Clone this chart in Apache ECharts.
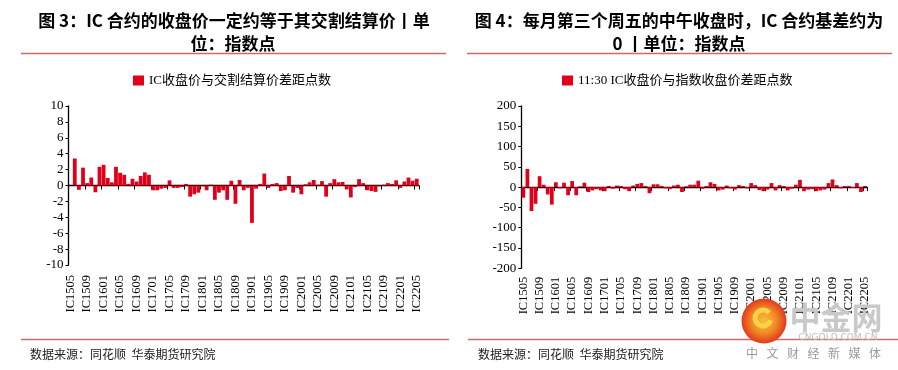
<!DOCTYPE html>
<html><head><meta charset="utf-8">
<script src="https://cdn.jsdelivr.net/npm/echarts/dist/echarts.min.js"></script>
<style>html,body{margin:0;padding:0;background:#fff}#c{width:898px;height:370px}</style>
</head><body><div id="c"></div>
<script>
const categories = [
'IC1505','IC1506','IC1507','IC1508','IC1509','IC1510','IC1511','IC1512',
'IC1601','IC1602','IC1603','IC1604','IC1605','IC1606','IC1607','IC1608','IC1609','IC1610','IC1611','IC1612',
'IC1701','IC1702','IC1703','IC1704','IC1705','IC1706','IC1707','IC1708','IC1709','IC1710','IC1711','IC1712',
'IC1801','IC1802','IC1803','IC1804','IC1805','IC1806','IC1807','IC1808','IC1809','IC1810','IC1811','IC1812',
'IC1901','IC1902','IC1903','IC1904','IC1905','IC1906','IC1907','IC1908','IC1909','IC1910','IC1911','IC1912',
'IC2001','IC2002','IC2003','IC2004','IC2005','IC2006','IC2007','IC2008','IC2009','IC2010','IC2011','IC2012',
'IC2101','IC2102','IC2103','IC2104','IC2105','IC2106','IC2107','IC2108','IC2109','IC2110','IC2111','IC2112',
'IC2201','IC2202','IC2203','IC2204','IC2205'];

// 图3: IC收盘价与交割结算价差距点数
const closeVsSettle = [
0, 3.4, -0.55, 2.25, 0.3, 1.0, -0.85, 2.35, 2.6, 0.95,
0.4, 2.35, 1.6, 1.35, 0.2, 0.85, 0.5, 1.2, 1.65, 1.35,
-0.6, -0.6, -0.4, -0.3, 0.65, -0.3, -0.3, -0.2, 0.2, -1.4,
-1.1, -0.9, -0.1, -0.6, 0.1, -1.8, -0.9, -0.6, -1.8, 0.6,
-2.3, 0.7, -0.6, -0.3, -4.7, -0.4, 0.2, 1.5, -0.3, 0.2,
0.3, -0.7, -0.6, 1.2, -0.9, -0.3, -1.1, 0.15, 0.4, 0.7,
0.1, 0.55, -1.4, 0.3, 0.8, 0.4, 0.45, -0.5, -1.5, -0.2,
0.8, 0.3, -0.6, -0.7, -0.8, -0.1, 0.1, 0.3, 0.2, 0.65,
-0.3, 0.5, 1.0, 0.6, 0.85];

// 图4: 11:30 IC收盘价与指数收盘价差距点数
const noonBasis = [
-26, 45, -59, -41, 27, 6, -18, -43, 12, -3,
11, -20, 15, -20, 2, 11, -12, -8, -5, -8,
-10, 3, -4, 4, 3, -5, -10, 4, 8, 10,
3, -15, 7, 7, 3, -3, -5, 4, 6, -12,
2, 6, 6, 16, -4, 3, 12, 8, -8, -6,
4, -3, -6, 5, 3, -3, 10, 5, -7, -10,
-6, 10, -8, 5, 3, -8, -4, 6, 18, -10,
-6, -5, -10, -8, -6, 10, 19, 5, -3, 3,
3, -2, 10, -12, 3];

const seriesNames = ['IC收盘价与交割结算价差距点数', '11:30 IC收盘价与指数收盘价差距点数'];
const titleLines3 = ['图 3：IC 合约的收盘价一定约等于其交割结算价丨单', '位：指数点'];
const titleLines4 = ['图 4：每月第三个周五的中午收盘时，IC 合约基差约为', '0 丨单位：指数点'];
const sourceText = '数据来源：同花顺  华泰期货研究院';
const yTicksLeft = {min: -10, max: 10, interval: 2};
const yTicksRight = {min: -200, max: 200, interval: 50};

const RED = '#e0001b';
const LINE = '#cf6a6c';
const serif = '"Liberation Serif","Times New Roman","Noto Sans CJK SC",serif';
const cjk = '"Noto Sans CJK SC","Noto Sans",sans-serif';

function xAxis(grid, margin) {
  return {
    type: 'category', gridIndex: grid, data: categories,
    axisLine: {onZero: true, lineStyle: {color: '#000', width: 1.3}},
    axisTick: {show: true, interval: 3, length: 4, lineStyle: {color: '#000'}},
    axisLabel: {interval: 3, rotate: 90, margin: margin, fontSize: 12.5, color: '#000', fontFamily: serif},
    splitLine: {show: false}
  };
}
function yAxis(grid, t) {
  return {
    type: 'value', gridIndex: grid, min: t.min, max: t.max, interval: t.interval,
    axisLine: {show: true, lineStyle: {color: '#000', width: 1.3}},
    axisTick: {show: true, length: 3, lineStyle: {color: '#000'}},
    axisLabel: {fontSize: 13, color: '#000', fontFamily: serif, margin: 5},
    splitLine: {show: false}
  };
}

const graphics = [];
function text(str, x, y, font, fill, align) {
  graphics.push({type: 'text', x: x, y: y, z: 100,
    style: {text: str, font: font, fill: fill, textAlign: align || 'center', textVerticalAlign: 'middle'}});
}
function hline(x1, x2, y) {
  graphics.push({type: 'line', z: 100, shape: {x1: x1, y1: y, x2: x2, y2: y}, style: {stroke: LINE, lineWidth: 1.5}});
}
const titleFont = 'bold 17px ' + cjk;
text(titleLines3[0], 234, 21, titleFont, '#000');
text(titleLines3[1], 233, 44, titleFont, '#000');
text(titleLines4[0], 679, 21, titleFont, '#000');
text(titleLines4[1], 679, 44, titleFont, '#000');
hline(21, 446, 53.5);
hline(467, 892, 53.5);
hline(21, 449, 339.5);
hline(468, 898, 339.5);
text(sourceText, 30, 354, '12px ' + cjk, '#222', 'left');
text(sourceText, 478, 354, '12px ' + cjk, '#222', 'left');

// watermark logo
graphics.push({type: 'circle', z: 110, shape: {cx: 764, cy: 321, r: 22.5},
  style: {fill: {type: 'radial', x: 0.5, y: 0.5, r: 0.5,
    colorStops: [{offset: 0, color: '#f8c03a'}, {offset: 0.55, color: '#f08a24'}, {offset: 1, color: '#e2381f'}]}}});
graphics.push({type: 'arc', z: 111, shape: {cx: 763, cy: 318, r: 8, startAngle: 0.3, endAngle: 5.6},
  style: {stroke: '#ffd24a', lineWidth: 5, fill: null}});
text('中金网', 836, 317, 'bold 31px ' + cjk, '#c9c9c9');
text('CNGOLD.COM.CN', 838, 338, '9px ' + '"DejaVu Sans",sans-serif', '#bdbdbd');
const wm = ['中','文','财','经','新','媒','体'];
wm.forEach((c, i) => text(c, 752 + i * 20.5, 353, '12px ' + cjk, '#9a9a9a'));

const chart = echarts.init(document.getElementById('c'), null, {renderer: 'canvas'});
chart.setOption({
  animation: false,
  backgroundColor: '#fff',
  grid: [
    {left: 68.6, top: 106, width: 350.2, height: 159, containLabel: false, outerBoundsMode: 'none'},
    {left: 521.3, top: 106, width: 345.8, height: 162.3, containLabel: false, outerBoundsMode: 'none'}
  ],
  legend: [
    {data: [seriesNames[0]], left: 133, top: 74, padding: 0, itemWidth: 11, itemHeight: 10, icon: 'rect',
     textStyle: {fontSize: 13, color: '#000', fontFamily: serif}},
    {data: [seriesNames[1]], left: 562, top: 74, padding: 0, itemWidth: 11, itemHeight: 10, icon: 'rect',
     textStyle: {fontSize: 13, color: '#000', fontFamily: serif}}
  ],
  xAxis: [xAxis(0, 10), xAxis(1, 8.5)],
  yAxis: [yAxis(0, yTicksLeft), yAxis(1, yTicksRight)],
  series: [
    {name: seriesNames[0], type: 'bar', xAxisIndex: 0, yAxisIndex: 0, data: closeVsSettle,
     itemStyle: {color: RED}, barCategoryGap: '8%'},
    {name: seriesNames[1], type: 'bar', xAxisIndex: 1, yAxisIndex: 1, data: noonBasis,
     itemStyle: {color: RED}, barCategoryGap: '8%'}
  ],
  graphic: graphics
});
</script></body></html>
